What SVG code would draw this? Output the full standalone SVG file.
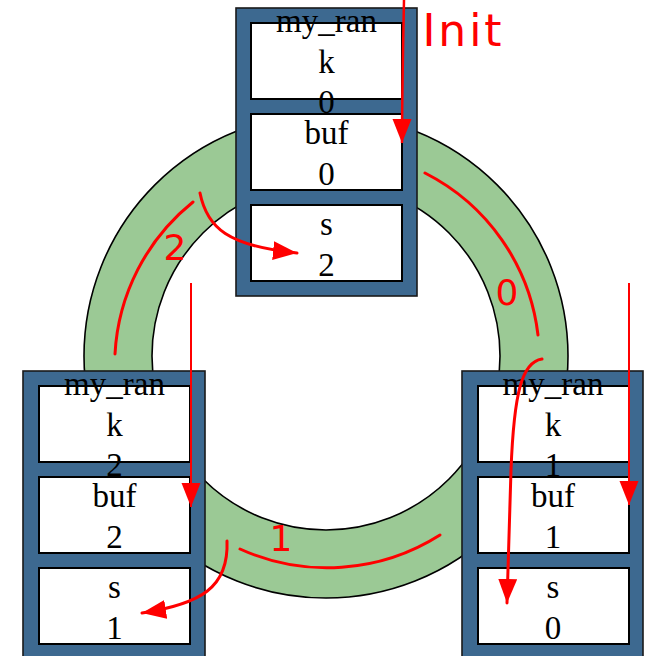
<svg xmlns="http://www.w3.org/2000/svg" width="646" height="656" viewBox="0 0 646 656">
  <style>
    .ring { fill: #9bc995; stroke: #000; stroke-width: 1.6; fill-rule: evenodd; }
    .frame { fill: #3d6990; stroke: #1a1a1a; stroke-width: 1.6; }
    .cell { fill: #fff; stroke: #000; stroke-width: 2; }
    .lbl { font-family: "Liberation Serif", "Times New Roman", serif; font-size: 33px; fill: #000; text-anchor: middle; }
    .flow { fill: none; stroke: #ff0000; stroke-width: 3; stroke-linecap: round; }
    .thin { fill: none; stroke: #ff0000; stroke-width: 2; }
    .num { font-family: "DejaVu Sans", "Liberation Sans", sans-serif; font-size: 36px; fill: #ff0000; text-anchor: middle; }
  </style>
  <defs>
    <marker id="head" markerUnits="userSpaceOnUse" markerWidth="26" markerHeight="20" refX="24" refY="9.5" orient="auto">
      <path d="M0,0 L24,9.5 L0,19 z" fill="#ff0000"/>
    </marker>
  </defs>

  <rect width="646" height="656" fill="#fff"/>

  <!-- green ring buffer -->
  <path class="ring" d="M84,356 A242,242 0 1,0 568,356 A242,242 0 1,0 84,356 Z M152,356 A174,174 0 1,1 500,356 A174,174 0 1,1 152,356 Z"/>

  <!-- node: top process -->
  <g id="node-top">
    <rect class="frame" x="236" y="8" width="181" height="288"/>
    <rect class="cell" x="251" y="23" width="151" height="76"/>
    <rect class="cell" x="251" y="114" width="151" height="76"/>
    <rect class="cell" x="251" y="205" width="151" height="76"/>
    <text class="lbl" x="326.5" y="32">my_ran</text>
    <text class="lbl" x="326.5" y="73">k</text>
    <text class="lbl" x="326.5" y="113">0</text>
    <text class="lbl" x="326.5" y="144">buf</text>
    <text class="lbl" x="326.5" y="185">0</text>
    <text class="lbl" x="326.5" y="235">s</text>
    <text class="lbl" x="326.5" y="276">2</text>
  </g>

  <!-- node: left process -->
  <g id="node-left">
    <rect class="frame" x="23" y="371" width="182" height="290"/>
    <rect class="cell" x="39" y="386" width="151" height="76"/>
    <rect class="cell" x="39" y="477" width="151" height="76"/>
    <rect class="cell" x="39" y="568" width="151" height="76"/>
    <text class="lbl" x="114.5" y="395">my_ran</text>
    <text class="lbl" x="114.5" y="436">k</text>
    <text class="lbl" x="114.5" y="476">2</text>
    <text class="lbl" x="114.5" y="507">buf</text>
    <text class="lbl" x="114.5" y="548">2</text>
    <text class="lbl" x="114.5" y="598">s</text>
    <text class="lbl" x="114.5" y="639">1</text>
  </g>

  <!-- node: right process -->
  <g id="node-right">
    <rect class="frame" x="462" y="371" width="181" height="290"/>
    <rect class="cell" x="478" y="386" width="151" height="76"/>
    <rect class="cell" x="478" y="477" width="151" height="76"/>
    <rect class="cell" x="478" y="568" width="151" height="76"/>
    <text class="lbl" x="553" y="395">my_ran</text>
    <text class="lbl" x="553" y="436">k</text>
    <text class="lbl" x="553" y="476">1</text>
    <text class="lbl" x="553" y="507">buf</text>
    <text class="lbl" x="553" y="548">1</text>
    <text class="lbl" x="553" y="598">s</text>
    <text class="lbl" x="553" y="639">0</text>
  </g>

  <!-- connectors -->
  <g id="connectors">
    <!-- Init -->
    <path class="thin" d="M404,0 C403,50 402,100 402,143" marker-end="url(#head)" style="stroke-width:2.5"/>
    <text x="462" y="46" font-family="DejaVu Sans, sans-serif" font-size="44" fill="#ff0000" text-anchor="middle" textLength="79" lengthAdjust="spacing">Init</text>

    <!-- step 0 -->
    <path class="flow" d="M425,173 A209,209 0 0,1 538,335"/>
    <text class="num" x="507" y="305">0</text>
    <path class="flow" d="M542,359 C522,362 514,392 511,470 L507,603" marker-end="url(#head)"/>
    <path class="thin" d="M629,283 L629,505" marker-end="url(#head)"/>

    <!-- step 1 -->
    <path class="flow" d="M240,549 A211,211 0 0,0 440,535"/>
    <text class="num" x="281" y="551">1</text>
    <path class="flow" d="M227,541 C229,588 200,604 142,613" marker-end="url(#head)"/>
    <path class="thin" d="M191,283 L191,507" marker-end="url(#head)"/>

    <!-- step 2 -->
    <path class="flow" d="M115,354 A209,209 0 0,1 193,202"/>
    <text class="num" x="175" y="260">2</text>
    <path class="flow" d="M200,193 C207,228 228,246 297,253" marker-end="url(#head)"/>
  </g>
</svg>
